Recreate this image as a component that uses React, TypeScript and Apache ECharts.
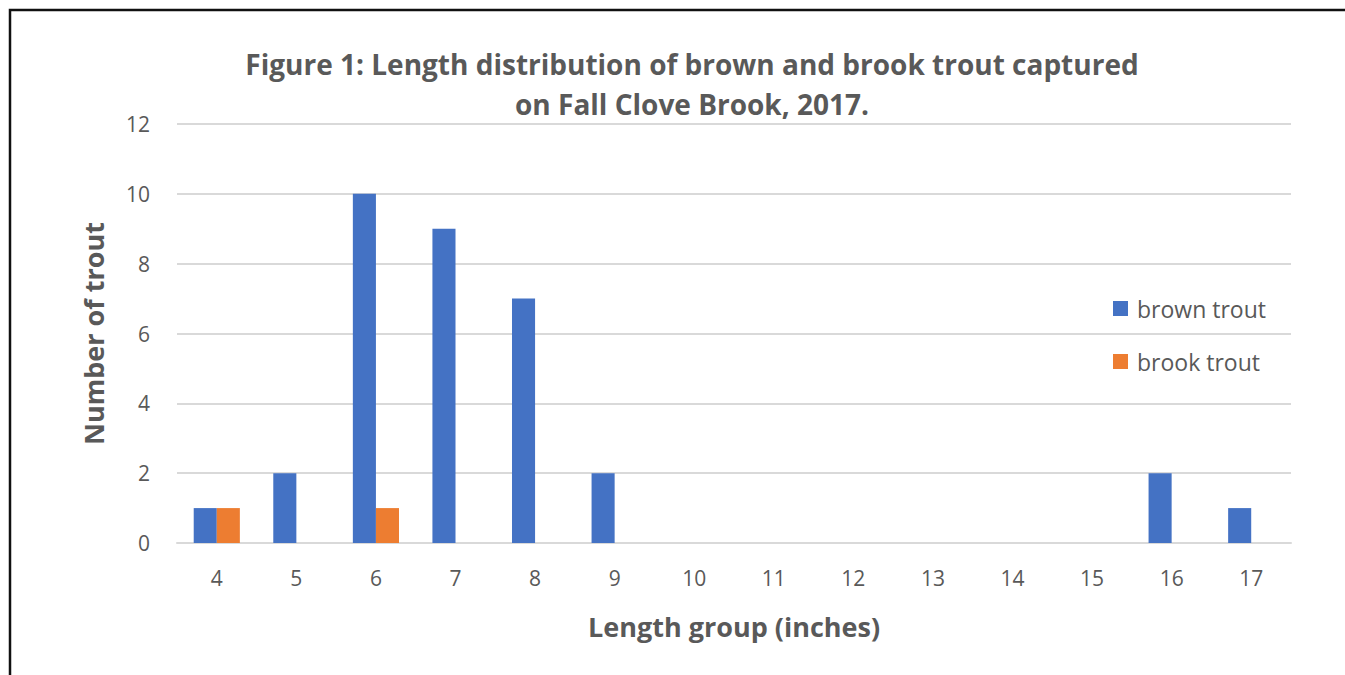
import React, { useEffect, useRef } from "react";
import * as echarts from "echarts";

const categories = ["4", "5", "6", "7", "8", "9", "10", "11", "12", "13", "14", "15", "16", "17"];
const brownTrout = [1, 2, 10, 9, 7, 2, 0, 0, 0, 0, 0, 0, 2, 1];
const brookTrout = [1, 0, 1, 0, 0, 0, 0, 0, 0, 0, 0, 0, 0, 0];
const yTicks = { min: 0, max: 12, interval: 2 };

export default function App() {
  const ref = useRef<HTMLDivElement>(null);
  useEffect(() => {
    if (!ref.current) return;
    const chart = echarts.init(ref.current, undefined, { renderer: "svg" });
    const font = "'Open Sans', sans-serif";
    chart.setOption({
      animation: false,
      backgroundColor: "#ffffff",
      textStyle: { fontFamily: font },
      title: {
        text: "Figure 1: Length distribution of brown and brook trout captured\non Fall Clove Brook, 2017.",
        left: 692,
        top: 44,
        padding: 0,
        textAlign: "center",
        textStyle: { fontFamily: font, fontSize: 28, fontWeight: "bold", color: "#595959", lineHeight: 40 },
      },
      legend: {
        orient: "vertical",
        left: 1113,
        top: 297,
        padding: 0,
        itemWidth: 15,
        itemHeight: 15,
        itemGap: 30,
        icon: "rect",
        textStyle: { fontFamily: font, fontSize: 23, color: "#595959", padding: [0, 0, 0, 4] },
        data: ["brown trout", "brook trout"],
      },
      grid: { left: 177, right: 1345 - 1291, top: 124, bottom: 675 - 543, containLabel: false },
      xAxis: {
        type: "category",
        data: categories,
        name: "Length group (inches)",
        nameLocation: "middle",
        nameGap: 70,
        nameTextStyle: { fontFamily: font, fontSize: 27, fontWeight: "bold", color: "#595959" },
        axisLine: { lineStyle: { color: "#d9d9d9", width: 2 } },
        axisTick: { show: false },
        axisLabel: { fontFamily: font, fontSize: 21, color: "#595959", margin: 24 },
      },
      yAxis: {
        type: "value",
        min: yTicks.min,
        max: yTicks.max,
        interval: yTicks.interval,
        name: "Number of trout",
        nameLocation: "middle",
        nameGap: 70,
        nameTextStyle: { fontFamily: font, fontSize: 27, fontWeight: "bold", color: "#595959" },
        axisLine: { show: false },
        axisTick: { show: false },
        axisLabel: { fontFamily: font, fontSize: 21, color: "#595959", margin: 27 },
        splitLine: { lineStyle: { color: "#d9d9d9", width: 2 } },
      },
      series: [
        {
          name: "brown trout",
          type: "bar",
          data: brownTrout,
          itemStyle: { color: "#4472C4" },
          barGap: "0%",
          barCategoryGap: "42%",
        },
        {
          name: "brook trout",
          type: "bar",
          data: brookTrout,
          itemStyle: { color: "#ED7D31" },
          barGap: "0%",
          barCategoryGap: "42%",
        },
      ],
      graphic: [
        {
          type: "rect",
          shape: { x: 10, y: 10, width: 1400, height: 720 },
          style: { fill: "none", stroke: "#111111", lineWidth: 2.5 },
          silent: true,
        },
      ],
    });
    return () => chart.dispose();
  }, []);
  return <div ref={ref} style={{ position: "fixed", left: 0, top: 0, width: 1345, height: 675 }} />;
}
